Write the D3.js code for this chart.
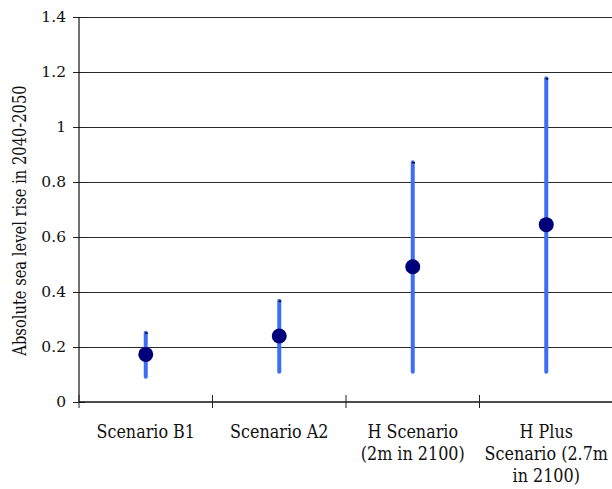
<!DOCTYPE html>
<html>
<head>
<meta charset="utf-8">
<script src="https://cdn.jsdelivr.net/npm/d3@7"></script>
<style>
  body { margin: 0; background: #fff; }
  text { font-family: "DejaVu Serif", serif; }
</style>
</head>
<body>
<div id="content"></div>
<script>
// data
var scenarios = [["Scenario B1"], ["Scenario A2"], ["H Scenario", "(2m in 2100)"], ["H Plus", "Scenario (2.7m", "in 2100)"]];
var lowValues = [0.092, 0.11, 0.11, 0.11];
var highValues = [0.252, 0.368, 0.872, 1.177];
var midValues = [0.173, 0.24, 0.492, 0.645];
var yTicks = [0, 0.2, 0.4, 0.6, 0.8, 1, 1.2, 1.4];

var width = 612, height = 489;
var padding = { top: 17, right: 0, bottom: 87, left: 79 };

var svg = d3.select("#content").append("svg")
    .attr("width", width)
    .attr("height", height);

var xScale = d3.scaleBand()
    .domain(d3.range(scenarios.length))
    .range([padding.left, width - padding.right + 1]);

var yScale = d3.scaleLinear()
    .domain([0, 1.4])
    .range([height - padding.bottom, padding.top]);

// gridlines
svg.append("g")
    .selectAll("line")
    .data(yTicks.slice(1))
    .enter()
    .append("line")
    .attr("x1", padding.left)
    .attr("x2", width)
    .attr("y1", function (d) { return Math.round(yScale(d)) + 0.5; })
    .attr("y2", function (d) { return Math.round(yScale(d)) + 0.5; })
    .attr("stroke", "#2a2a2a")
    .attr("stroke-width", 1);

// y axis
var yAxis = d3.axisLeft(yScale).tickValues(yTicks).tickSize(6).tickPadding(7)
    .tickFormat(function (d) { return d3.format("")(d); });
var gy = svg.append("g")
    .attr("transform", "translate(" + padding.left + ",0)")
    .call(yAxis);
gy.select(".domain").remove();
gy.selectAll(".tick line").attr("x1", 6).attr("stroke", "#222");
gy.selectAll(".tick text").style("font-size", "15.5px").attr("fill", "#111");
svg.append("line")
    .attr("x1", padding.left).attr("x2", padding.left)
    .attr("y1", yScale(1.4)).attr("y2", yScale(0))
    .attr("stroke", "#111").attr("stroke-width", 1.2);

// x axis
var xBounds = d3.range(scenarios.length + 1).map(function (i) {
    return padding.left + i * xScale.step();
});
svg.append("line")
    .attr("x1", padding.left).attr("x2", width)
    .attr("y1", yScale(0)).attr("y2", yScale(0))
    .attr("stroke", "#111").attr("stroke-width", 1.4);
svg.append("g")
    .selectAll("line")
    .data(xBounds.slice(0, scenarios.length))
    .enter()
    .append("line")
    .attr("x1", function (d) { return d; })
    .attr("x2", function (d) { return d; })
    .attr("y1", yScale(0) - 7)
    .attr("y2", yScale(0) + 6)
    .attr("stroke", "#222");

var labels = svg.append("g")
    .selectAll("text")
    .data(scenarios)
    .enter()
    .append("text")
    .attr("text-anchor", "middle")
    .style("font-size", "16px")
    .attr("fill", "#111")
    .attr("transform", function (d, i) {
        return "translate(" + (xScale(i) + xScale.bandwidth() / 2) + "," + (yScale(0) + 36) + ") scale(1,1.1)";
    });
labels.selectAll("tspan")
    .data(function (d) { return d; })
    .enter()
    .append("tspan")
    .attr("x", 0)
    .attr("y", function (d, j) { return j * 20; })
    .text(function (d) { return d; });

// error bars
var bars = svg.append("g");
bars.selectAll("line")
    .data(scenarios)
    .enter()
    .append("line")
    .attr("x1", function (d, i) { return xScale(i) + xScale.bandwidth() / 2; })
    .attr("x2", function (d, i) { return xScale(i) + xScale.bandwidth() / 2; })
    .attr("y1", function (d, i) { return yScale(lowValues[i]); })
    .attr("y2", function (d, i) { return yScale(highValues[i]); })
    .attr("stroke", "#3b6df5")
    .attr("stroke-width", 4)
    .attr("stroke-linecap", "round");

// small caps at top
svg.append("g")
    .selectAll("line")
    .data(highValues)
    .enter()
    .append("line")
    .attr("x1", function (d, i) { return xScale(i) + xScale.bandwidth() / 2 - 0.5; })
    .attr("x2", function (d, i) { return xScale(i) + xScale.bandwidth() / 2 + 2; })
    .attr("y1", function (d) { return yScale(d) + 0.5; })
    .attr("y2", function (d) { return yScale(d) + 0.5; })
    .attr("stroke", "#000")
    .attr("stroke-width", 1.5);

// mid points
svg.append("g")
    .selectAll("circle")
    .data(midValues)
    .enter()
    .append("circle")
    .attr("cx", function (d, i) { return xScale(i) + xScale.bandwidth() / 2; })
    .attr("cy", function (d) { return yScale(d); })
    .attr("r", 7.5)
    .attr("fill", "#00007a");

// y title
svg.append("text")
    .attr("transform", "translate(26," + yScale(0.66) + ") rotate(-90) scale(1,1.2)")
    .attr("text-anchor", "middle")
    .style("font-size", "14.7px")
    .attr("fill", "#111")
    .text("Absolute sea level rise in 2040-2050");
</script>
</body>
</html>
